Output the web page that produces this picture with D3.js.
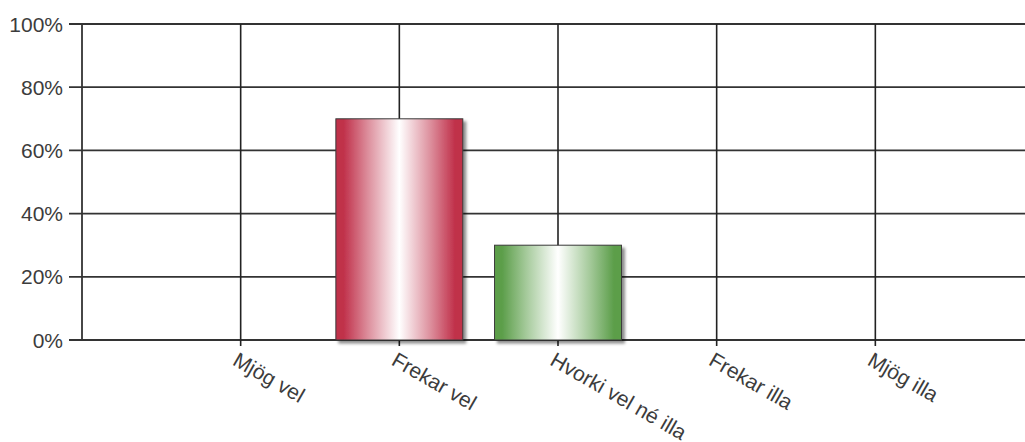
<!DOCTYPE html>
<html><head><meta charset="utf-8">
<script src="https://cdn.jsdelivr.net/npm/d3@7"></script>
<style>body{margin:0;background:#fff}svg{display:block}</style>
</head><body>
<svg id="c" width="1025" height="442"></svg>
<script>
const categories = ["Mjög vel","Frekar vel","Hvorki vel né illa","Frekar illa","Mjög illa"];
const values = [0, 70, 30, 0, 0];
const barColors = ["#c0304a","#c0304a","#5c9e4a","#c0304a","#c0304a"];
const yTicks = [0,20,40,60,80,100];

(function(){
const svg = d3.select("#c");
const pL = 82, pR = 1034, pT = 24, pB = 340;
const x = d3.scalePoint().domain(categories).range([pL, pR]).padding(1);
const y = d3.scaleLinear().domain([0,100]).range([pB, pT]);
const bw = x.step()*0.8;

const defs = svg.append("defs");
const f = defs.append("filter").attr("id","sh").attr("x","-10%").attr("y","-10%").attr("width","130%").attr("height","130%");
f.append("feDropShadow").attr("dx",3).attr("dy",3).attr("stdDeviation",1.6).attr("flood-color","#000").attr("flood-opacity",0.45);
function grad(id,c){
  const g = defs.append("linearGradient").attr("id",id).attr("x1","0").attr("x2","1").attr("y1","0").attr("y2","0");
  const mid = d3.interpolateRgb(c,"#fff")(0.45);
  [[0,c],[0.06,c],[0.25,mid],[0.5,"#fff"],[0.75,mid],[0.94,c],[1,c]].forEach(([o,col])=>g.append("stop").attr("offset",o).attr("stop-color",col));
}
categories.forEach((c,i)=>grad("g"+i, barColors[i]));

svg.append("g").selectAll("line").data(yTicks).join("line")
  .attr("x1",69).attr("x2",1025).attr("y1",d=>y(d)).attr("y2",d=>y(d))
  .attr("stroke","#333").attr("stroke-width",1.8);
svg.append("line").attr("x1",pL).attr("x2",pL).attr("y1",pT).attr("y2",pB).attr("stroke","#333").attr("stroke-width",1.8);
svg.append("g").selectAll("line").data(categories).join("line")
  .attr("x1",d=>x(d)).attr("x2",d=>x(d)).attr("y1",pT).attr("y2",pB+6)
  .attr("stroke","#222").attr("stroke-width",1.6);

svg.append("g").selectAll("text").data(yTicks).join("text")
  .attr("x",63).attr("y",d=>y(d)).attr("dy","0.36em").attr("text-anchor","end")
  .attr("font-family","Liberation Sans, Arial, sans-serif").attr("font-size",21).attr("fill","#3c3c3c")
  .text(d=>d+"%");

svg.append("g").selectAll("rect").data(categories.map((c,i)=>({c,v:values[i],i})).filter(d=>d.v>0)).join("rect")
  .attr("x",d=>x(d.c)-bw/2).attr("width",bw)
  .attr("y",d=>y(d.v)).attr("height",d=>y(0)-y(d.v))
  .attr("fill",d=>"url(#g"+d.i+")").attr("stroke","#3a3a3a").attr("stroke-width",1)
  .attr("filter","url(#sh)");

svg.append("g").selectAll("text").data(categories).join("text")
  .attr("transform",d=>`translate(${x(d)-1},${pB+10}) rotate(30)`)
  .attr("dy","0.78em")
  .attr("font-family","Liberation Sans, Arial, sans-serif").attr("font-size",21).attr("fill","#3c3c3c")
  .text(d=>d);
})();
</script>
</body></html>
